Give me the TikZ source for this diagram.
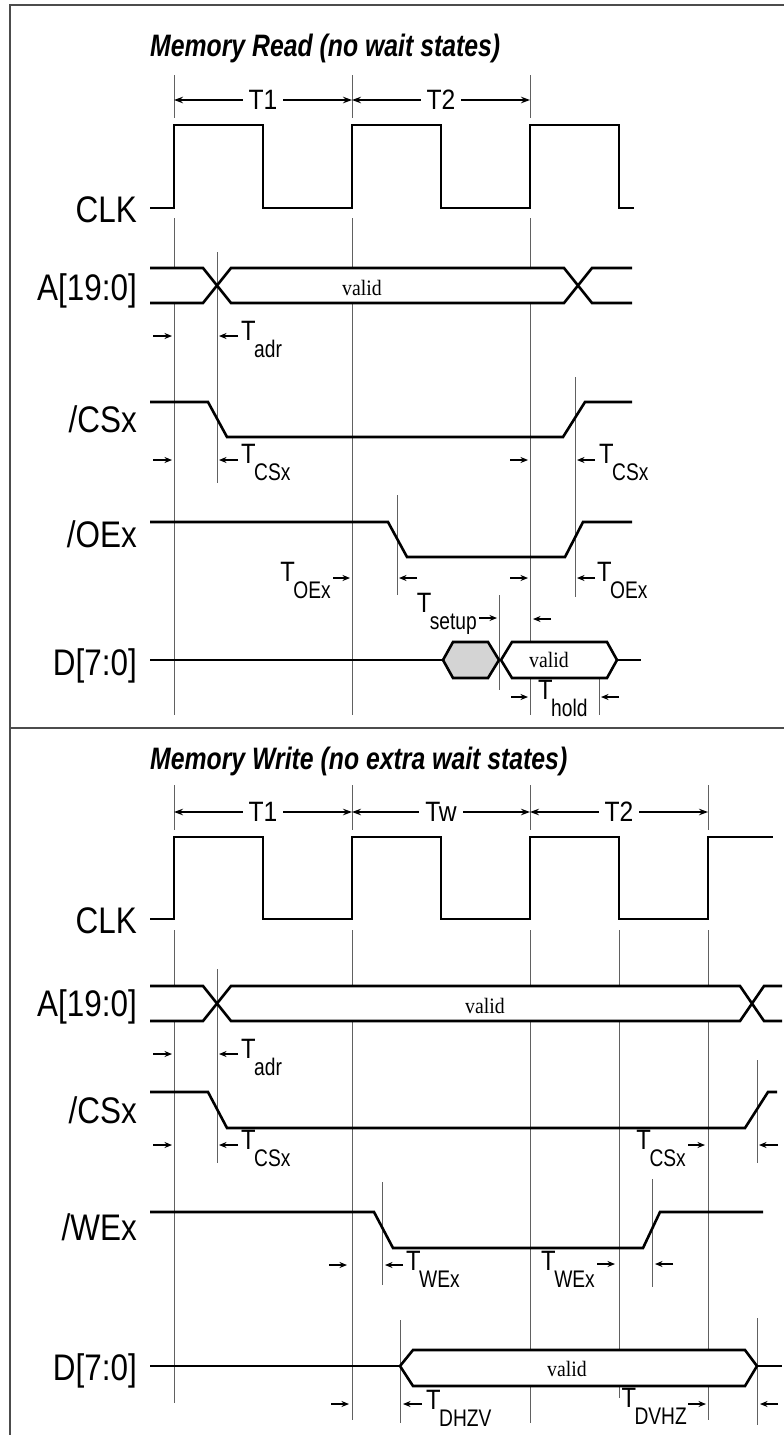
\documentclass[tikz,border=0pt]{standalone}
\usepackage{fontspec}
\usetikzlibrary{arrows.meta}
\newfontfamily\labfont[FakeStretch=0.85]{Liberation Sans}
\newfontfamily\smfont[FakeStretch=0.8]{Liberation Sans}
\newfontfamily\tfont[FakeStretch=0.85]{Liberation Sans}
\newfontfamily\pfont[FakeStretch=0.88]{Liberation Sans}
\newfontfamily\titfont[FakeStretch=0.8]{Liberation Sans}
\newfontfamily\valfont[FakeStretch=0.9]{Liberation Serif}
\newcommand{\Tsub}[1]{\tfont\fontsize{28}{30}\selectfont T\kern-1.5pt\raisebox{-17pt}{\smfont\fontsize{24}{26}\selectfont #1}}
\tikzset{
 sig/.style={line width=2.6pt, line join=miter},
 vl/.style={line width=0.9pt, draw=black!62},
 frm/.style={line width=2pt, draw=black!70},
 sarr/.style={line width=1.1pt, -{Stealth[length=7.5pt,width=6pt]}},
 parr/.style={line width=1.2pt, {Stealth[length=9pt,width=6.5pt]}-{Stealth[length=9pt,width=6.5pt]}},
 siglab/.style={anchor=base east, inner sep=0pt, font=\labfont\fontsize{37}{40}\selectfont},
 tlab/.style={inner sep=0pt},
 ttl/.style={anchor=base west, inner sep=0pt, font=\titfont\bfseries\itshape\fontsize{31}{34}\selectfont},
 val/.style={anchor=base, inner sep=0pt, font=\valfont\fontsize{22}{24}\selectfont},
 plab/.style={fill=white, inner xsep=6pt, inner ysep=0pt, font=\pfont\fontsize{28}{30}\selectfont},
}
\begin{document}
\begin{tikzpicture}[x=1pt,y=-1pt]
\useasboundingbox (0,0) rectangle (784,1435);
% frame
\draw[frm] (784,5) -- (10,5) -- (10,1435);
\draw[frm] (10,728) -- (784,728);

% ================= MEMORY READ =================
\node[ttl] (title1) at (150,56) {Memory Read (no wait states)};
\foreach \x in {174,352,530} \draw[vl] (\x,75) -- (\x,118);
\draw[parr] (174,100) -- node[plab] (p1) {T1} (352,100);
\draw[parr] (352,100) -- node[plab] (p2) {T2} (530,100);

% guide lines
\foreach \x in {174,352,530} \draw[vl] (\x,218) -- (\x,715);
\draw[vl] (217,252) -- (217,483);
\draw[vl] (575,377) -- (575,597);
\draw[vl] (397,495) -- (397,595);
\draw[vl] (499,595) -- (499,690);
\draw[vl] (599,678) -- (599,715);

% CLK
\draw[sig] (150,208) -- (174,208) -- (174,125) -- (263,125) -- (263,208) -- (352,208) -- (352,125) -- (441,125) -- (441,208) -- (530,208) -- (530,125) -- (619,125) -- (619,208) -- (634,208);

% A bus
\fill[white] (150,268) -- (203,268) -- (217,285.5) -- (203,303) -- (150,303) -- cycle;
\fill[white] (217,285.5) -- (231,268) -- (564,268) -- (578,285.5) -- (564,303) -- (231,303) -- cycle;
\fill[white] (578,285.5) -- (592,268) -- (632,268) -- (632,303) -- (592,303) -- cycle;
\draw[sig] (150,268) -- (203,268) -- (231,303) -- (564,303) -- (592,268) -- (632,268);
\draw[sig] (150,303) -- (203,303) -- (231,268) -- (564,268) -- (592,303) -- (632,303);
\node[val] (v1) at (362,295) {valid};

% /CSx
\draw[sig] (150,402) -- (208,402) -- (227,437) -- (563,437) -- (585,402) -- (632,402);
% /OEx
\draw[sig] (150,522) -- (388,522) -- (407,557) -- (565,557) -- (583,522) -- (632,522);
% D
\draw[sig] (150,660) -- (443,660);
\filldraw[sig, fill=black!17] (443,660) -- (453,642) -- (488,642) -- (499,660) -- (488,678) -- (453,678) -- cycle;
\filldraw[sig, fill=white] (501,660) -- (512,642) -- (607,642) -- (617,660) -- (607,678) -- (512,678) -- cycle;
\draw[sig] (617,660) -- (641,660);
\node[val] (v2) at (549,667) {valid};

% signal names
\node[siglab] (clk1) at (137,222) {CLK};
\node[siglab] (a1) at (137,300) {A[19:0]};
\node[siglab] (cs1) at (137,432) {/CSx};
\node[siglab] (oe1) at (137,547) {/OEx};
\node[siglab] (d1) at (137,675) {D[7:0]};

% timing arrows
\draw[sarr] (153,336) -- (172,336);
\draw[sarr] (238,336) -- (219,336);
\node[tlab, anchor=base west] (ta1) at (241,340) {\Tsub{adr}};

\draw[sarr] (153,460) -- (172,460);
\draw[sarr] (238,460) -- (219,460);
\node[tlab, anchor=base west] (tc1) at (241,463) {\Tsub{CSx}};
\draw[sarr] (510,460) -- (528,460);
\draw[sarr] (595,460) -- (577,460);
\node[tlab, anchor=base west] (tc2) at (599,463) {\Tsub{CSx}};

\node[tlab, anchor=base east] (to1) at (331,581) {\Tsub{OEx}};
\draw[sarr] (333,578) -- (350,578);
\draw[sarr] (417,578) -- (399,578);
\draw[sarr] (510,578) -- (528,578);
\draw[sarr] (595,578) -- (577,578);
\node[tlab, anchor=base west] (to2) at (597,581) {\Tsub{OEx}};

\node[tlab, anchor=base east] (ts1) at (477,612) {\Tsub{setup}};
\draw[sarr] (479,618) -- (497,618);
\draw[sarr] (551,619) -- (533,619);

\draw[sarr] (511,697) -- (528,697);
\node[tlab, anchor=base west] (th1) at (538,699) {\Tsub{hold}};
\draw[sarr] (619,697) -- (601,697);

% ================= MEMORY WRITE =================
\node[ttl] (title2) at (150,769) {Memory Write (no extra wait states)};
\foreach \x in {174,352,530,708} \draw[vl] (\x,785) -- (\x,830);
\draw[parr] (174,812) -- node[plab] (q1) {T1} (352,812);
\draw[parr] (352,812) -- node[plab] (q2) {Tw} (530,812);
\draw[parr] (530,812) -- node[plab] (q3) {T2} (708,812);

% guide lines
\draw[vl] (174,930) -- (174,1403);
\draw[vl] (352,930) -- (352,1420);
\draw[vl] (530,930) -- (530,1423);
\draw[vl] (619,930) -- (619,1398);
\draw[vl] (708,930) -- (708,1420);
\draw[vl] (217,969) -- (217,1163);
\draw[vl] (757,1060) -- (757,1163);
\draw[vl] (757,1318) -- (757,1425);
\draw[vl] (382,1182) -- (382,1285);
\draw[vl] (652,1179) -- (652,1287);
\draw[vl] (400,1320) -- (400,1423);

% CLK
\draw[sig] (150,919) -- (174,919) -- (174,837) -- (263,837) -- (263,919) -- (352,919) -- (352,837) -- (441,837) -- (441,919) -- (530,919) -- (530,837) -- (619,837) -- (619,919) -- (708,919) -- (708,837) -- (773,837);

% A bus
\fill[white] (150,986) -- (203,986) -- (217,1003.5) -- (203,1021) -- (150,1021) -- cycle;
\fill[white] (217,1003.5) -- (231,986) -- (740,986) -- (752,1003.5) -- (740,1021) -- (231,1021) -- cycle;
\fill[white] (752,1003.5) -- (764,986) -- (782,986) -- (782,1021) -- (764,1021) -- cycle;
\draw[sig] (150,986) -- (203,986) -- (231,1021) -- (740,1021) -- (764,986) -- (782,986);
\draw[sig] (150,1021) -- (203,1021) -- (231,986) -- (740,986) -- (764,1021) -- (782,1021);
\node[val] (v3) at (485,1013) {valid};

% /CSx
\draw[sig] (150,1092) -- (208,1092) -- (227,1128) -- (745,1128) -- (768,1092) -- (777,1092);
% /WEx
\draw[sig] (150,1212) -- (374,1212) -- (393,1248) -- (643,1248) -- (660,1212) -- (763,1212);
% D
\draw[sig] (150,1366) -- (400,1366);
\filldraw[sig, fill=white] (400,1366) -- (413,1350) -- (745,1350) -- (757,1366) -- (745,1386) -- (413,1386) -- cycle;
\draw[sig] (757,1366) -- (782,1366);
\node[val] (v4) at (567,1376) {valid};

% signal names
\node[siglab] (clk2) at (137,933) {CLK};
\node[siglab] (a2) at (137,1016) {A[19:0]};
\node[siglab] (cs2) at (137,1123) {/CSx};
\node[siglab] (we2) at (137,1240) {/WEx};
\node[siglab] (d2) at (137,1380) {D[7:0]};

% timing arrows
\draw[sarr] (153,1054) -- (172,1054);
\draw[sarr] (238,1054) -- (219,1054);
\node[tlab, anchor=base west] (ta2) at (241,1058) {\Tsub{adr}};

\draw[sarr] (153,1145) -- (172,1145);
\draw[sarr] (238,1145) -- (219,1145);
\node[tlab, anchor=base west] (tc3) at (241,1149) {\Tsub{CSx}};
\node[tlab, anchor=base east] (tc4) at (686,1149) {\Tsub{CSx}};
\draw[sarr] (688,1145) -- (705,1145);
\draw[sarr] (778,1145) -- (759,1145);

\draw[sarr] (329,1265) -- (347,1265);
\draw[sarr] (403,1265) -- (385,1265);
\node[tlab, anchor=base west] (tw1) at (406,1270) {\Tsub{WEx}};
\node[tlab, anchor=base east] (tw2) at (595,1270) {\Tsub{WEx}};
\draw[sarr] (597,1264) -- (615,1264);
\draw[sarr] (673,1264) -- (655,1264);

\draw[sarr] (331,1404) -- (349,1404);
\draw[sarr] (422,1404) -- (403,1404);
\node[tlab, anchor=base west] (tz1) at (426,1409) {\Tsub{DHZV}};
\node[tlab, anchor=base east] (tz2) at (687,1407) {\Tsub{DVHZ}};
\draw[sarr] (688,1404) -- (706,1404);
\draw[sarr] (778,1404) -- (760,1404);
\end{tikzpicture}
\end{document}
